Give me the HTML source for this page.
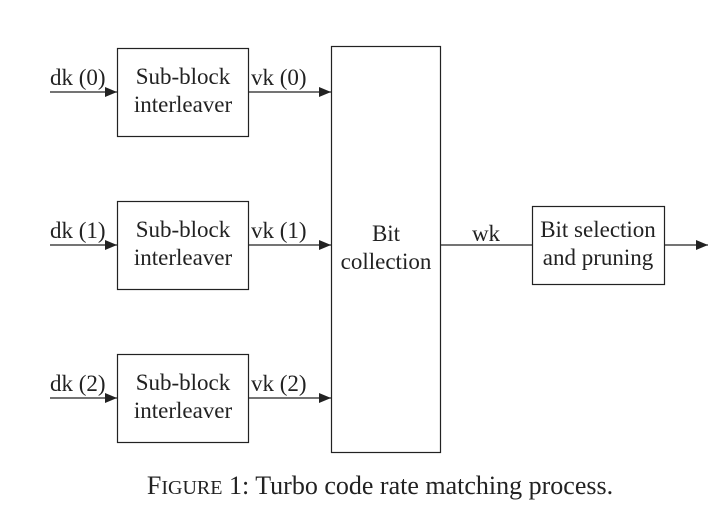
<!DOCTYPE html>
<html><head><meta charset="utf-8"><style>
body{margin:0;background:#fff;}
svg text{font-family:"Liberation Serif",serif;fill:#222;}
</style></head><body>
<svg width="728" height="516" viewBox="0 0 728 516">
<defs><marker id="ah" markerWidth="12" markerHeight="10" refX="12" refY="5" orient="auto" markerUnits="userSpaceOnUse"><path d="M0,0 L12,5 L0,10 Z" fill="#222"/></marker></defs>
<g stroke="#222" stroke-width="1.2" fill="none">
<rect x="117.5" y="48.5" width="131" height="88"/>
<rect x="117.5" y="201.5" width="131" height="88"/>
<rect x="117.5" y="354.5" width="131" height="88"/>
<rect x="331.5" y="46.5" width="109" height="406"/>
<rect x="532.5" y="206.5" width="132" height="78"/>
<line x1="50" y1="92" x2="117" y2="92" marker-end="url(#ah)"/>
<line x1="50" y1="245" x2="117" y2="245" marker-end="url(#ah)"/>
<line x1="50" y1="398" x2="117" y2="398" marker-end="url(#ah)"/>
<line x1="249" y1="92" x2="331" y2="92" marker-end="url(#ah)"/>
<line x1="249" y1="245" x2="331" y2="245" marker-end="url(#ah)"/>
<line x1="249" y1="398" x2="331" y2="398" marker-end="url(#ah)"/>
<line x1="441" y1="245" x2="532" y2="245"/>
<line x1="665" y1="245" x2="708" y2="245" marker-end="url(#ah)"/>
</g>
<g font-size="23">
<text x="50" y="85">dk (0)</text>
<text x="50" y="238">dk (1)</text>
<text x="50" y="391">dk (2)</text>
<text x="251" y="85">vk (0)</text>
<text x="251" y="238">vk (1)</text>
<text x="251" y="391">vk (2)</text>
<g text-anchor="middle">
<text x="183" y="84">Sub-block</text><text x="183" y="112">interleaver</text>
<text x="183" y="237">Sub-block</text><text x="183" y="265">interleaver</text>
<text x="183" y="390">Sub-block</text><text x="183" y="418">interleaver</text>
<text x="386" y="241">Bit</text><text x="386" y="269">collection</text>
<text x="486" y="241">wk</text>
<text x="598" y="237">Bit selection</text><text x="598" y="265">and pruning</text>
<text x="380" y="494" font-size="26">F<tspan font-size="20">IGURE</tspan> 1: Turbo code rate matching process.</text>
</g>
</g>
</svg>
</body></html>
